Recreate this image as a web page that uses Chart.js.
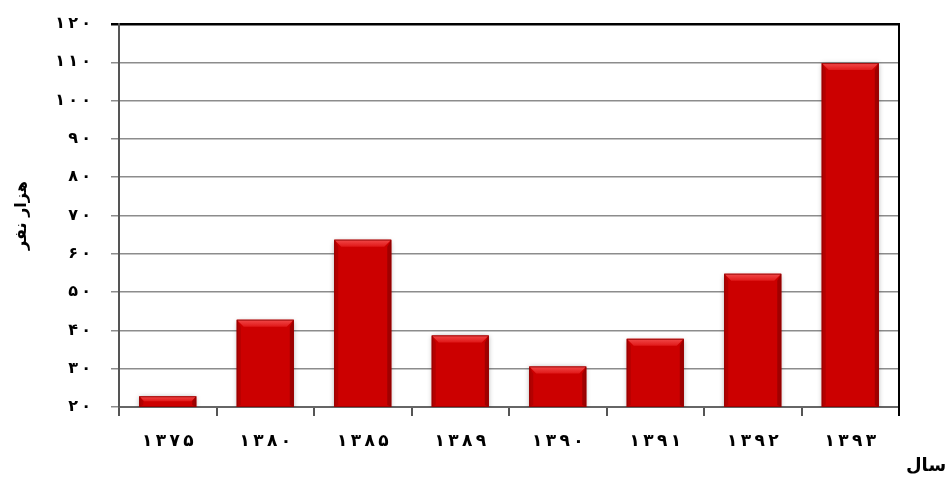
<!DOCTYPE html>
<html>
<head>
<meta charset="utf-8">
<script src="https://cdn.jsdelivr.net/npm/chart.js@4/dist/chart.umd.min.js"></script>
<style>
html,body{margin:0;padding:0;background:#fff;}
#wrap{width:949px;height:477px;}
</style>
</head>
<body>
<div id="wrap"><canvas id="c" width="949" height="477"></canvas></div>
<script>
const categories = ['۱۳۷۵','۱۳۸۰','۱۳۸۵','۱۳۸۹','۱۳۹۰','۱۳۹۱','۱۳۹۲','۱۳۹۳'];
const values = [22.8, 42.8, 63.7, 38.7, 30.6, 37.8, 54.8, 109.8];
const yTitle = 'هزار نفر';
const xTitle = 'سال';
const yMin = 20, yMax = 120, yStep = 10;

const faDigits = '۰۱۲۳۴۵۶۷۸۹';
function toFa(n){ return String(n).replace(/[0-9]/g, d => faDigits[+d]); }
function spaced(s){ return s.split('').join('\u2009'); }

const FONT = '"DejaVu Sans", sans-serif';

const barStyle = {
  id: 'barStyle',
  beforeDatasetsDraw(chart){
    const ctx = chart.ctx;
    ctx.save();
    ctx.shadowColor = 'rgba(0,0,0,0.35)';
    ctx.shadowBlur = 5;
    ctx.shadowOffsetX = 0;
    ctx.shadowOffsetY = 1;
  },
  afterDatasetsDraw(chart){
    const ctx = chart.ctx;
    ctx.restore();
    const a = chart.chartArea;
    const meta = chart.getDatasetMeta(0);
    ctx.save();
    ctx.beginPath();
    ctx.rect(a.left, a.top - 2, a.right - a.left, a.bottom - a.top + 2);
    ctx.clip();
    meta.data.forEach(bar => {
      const l = bar.x - bar.width/2, r = bar.x + bar.width/2;
      const t = bar.y, b = Math.min(bar.base, a.bottom);
      const h = b - t;
      const e = Math.min(7, h/2.2);
      const s = Math.min(4, bar.width/6);
      ctx.beginPath();
      ctx.moveTo(l, t); ctx.lineTo(r, t); ctx.lineTo(r - e, t + e); ctx.lineTo(l + e, t + e); ctx.closePath();
      const gt = ctx.createLinearGradient(0, t, 0, t + e);
      gt.addColorStop(0, '#f24a4a'); gt.addColorStop(1, '#e01818');
      ctx.fillStyle = gt; ctx.fill();
      ctx.beginPath();
      ctx.moveTo(l, t); ctx.lineTo(l + s, t + e); ctx.lineTo(l + s, b - 2); ctx.lineTo(l, b); ctx.closePath();
      ctx.fillStyle = '#b30000'; ctx.fill();
      ctx.beginPath();
      ctx.moveTo(r, t); ctx.lineTo(r - s, t + e); ctx.lineTo(r - s, b - 2); ctx.lineTo(r, b); ctx.closePath();
      ctx.fillStyle = '#a00000'; ctx.fill();
      ctx.strokeStyle = 'rgba(140,0,0,0.8)';
      ctx.lineWidth = 1;
      ctx.strokeRect(l + 0.5, t + 0.5, bar.width - 1, h - 1);
    });
    ctx.restore();
  },
  afterDraw(chart){
    const ctx = chart.ctx;
    const a = chart.chartArea;
    ctx.save();
    ctx.strokeStyle = '#000';
    ctx.lineWidth = 2;
    ctx.beginPath();
    ctx.moveTo(a.right, a.top - 1);
    ctx.lineTo(a.right, a.bottom + 9);
    ctx.stroke();
    ctx.fillStyle = '#000';
    ctx.font = 'bold 18px ' + FONT;
    ctx.textAlign = 'left';
    ctx.textBaseline = 'middle';
    ctx.fillText(xTitle, a.right + 7, 466);
    ctx.restore();
  }
};

new Chart(document.getElementById('c'), {
  type: 'bar',
  data: {
    labels: categories,
    datasets: [{
      data: values,
      backgroundColor: '#cc0000',
      borderWidth: 0,
      categoryPercentage: 1,
      barPercentage: 0.585
    }]
  },
  options: {
    responsive: false,
    animation: false,
    devicePixelRatio: 1,
    layout: { padding: { top: 24, right: 50, left: 0, bottom: 0 } },
    plugins: { legend: { display: false }, tooltip: { enabled: false } },
    scales: {
      x: {
        afterFit(scale){ scale.height = 70; },
        grid: {
          display: true,
          offset: true,
          drawOnChartArea: false,
          drawTicks: true,
          tickLength: 9,
          color: '#555',
          lineWidth: 2
        },
        border: { display: true, color: '#666', width: 2 },
        ticks: {
          color: '#000',
          padding: 15,
          font: { family: FONT, size: 17, weight: 'bold' },
          callback(v, i){ return spaced(categories[i]); }
        }
      },
      y: {
        min: yMin, max: yMax,
        afterFit(scale){ scale.width = 119; scale.paddingTop = 0; scale.paddingBottom = 0; },
        grid: {
          drawTicks: true,
          tickLength: 8,
          color: ctx => ctx.tick && ctx.tick.value === yMax ? '#000' : '#8c8c8c',
          lineWidth: ctx => ctx.tick && ctx.tick.value === yMax ? 2.5 : 1.5
        },
        border: { display: true, color: '#555', width: 2 },
        ticks: {
          stepSize: yStep,
          color: '#000',
          padding: 20,
          font: { family: FONT, size: 16, weight: 'bold' },
          callback(v){ return spaced(toFa(v)); }
        },
        title: {
          display: true,
          text: yTitle,
          color: '#000',
          font: { family: FONT, size: 16, weight: 'bold' },
          padding: { top: 12, bottom: 0 }
        }
      }
    }
  },
  plugins: [barStyle]
});
</script>
</body>
</html>
